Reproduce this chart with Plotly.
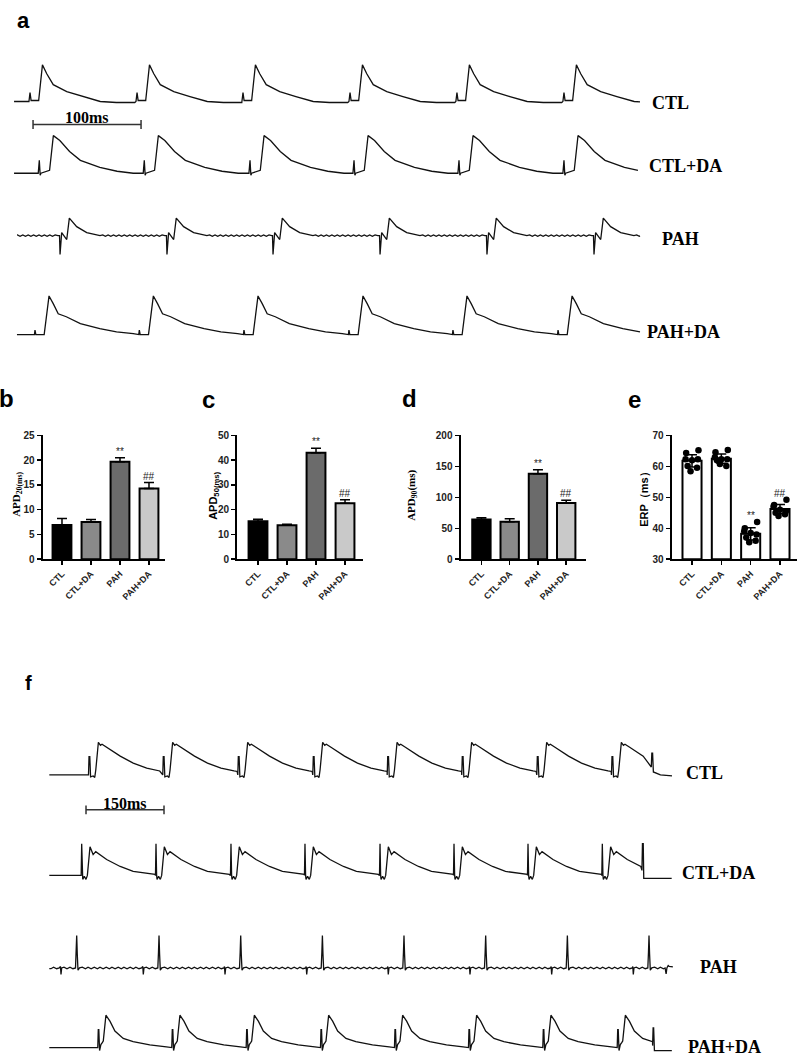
import numpy as np
import plotly.graph_objects as go

W, H = 800, 1062

# ======================= DATA =======================
# ---- Panel a : optical action potentials (time after stimulus, ms ; amplitude, a.u.)
a_ctl_t = [-1, 0, 1, 8, 11.5, 15.5, 21.5, 34, 49, 65, 80, 97]
a_ctl_v = [-2, 7, -1, -1, 35, 26, 15, 8, 3, -2, -3, -3]
a_ctl_beats = [27.8, 126.9, 225.0, 324.1, 423.1, 522.2]

a_ctlda_t = [-1, 0, 0.8, 1.5, 9.5, 13, 19, 28, 38, 56, 72, 87, 94]
a_ctlda_v = [0, 13, -2, 0, 3, 38, 33, 22, 13, 6, 2, 0, 0]
a_ctlda_beats = [36.4, 133.6, 231.5, 327.8, 425.0, 522.2]

a_pah_t = [-0.5, 0, 0.8, 1.5, 6.2, 8.6, 15.4, 24.7, 37, 39.5, 42, 44.5, 47, 49.5, 52,
           54.5, 57, 59.5, 62, 64.5, 67, 69.5, 72, 74.5, 77, 79.5, 82, 84.5, 87,
           89.5, 92, 94.5, 97]
a_pah_v = [0, -19, 0, 3, -4, 17.7, 9, 3, 0, 0.7, -0.7, 0.7, -0.7, 0.7, -0.7,
           0.7, -0.7, 0.7, -0.7, 0.7, -0.7, 0.7, -0.7, 0.7, -0.7, 0.7, -0.7, 0.7, -0.7,
           0.7, -0.7, 0.7, 0]
a_pah_beats = [55.6, 154.6, 252.8, 351.9, 450.9, 550.0]

a_pahda_t = [-0.5, 0, 0.8, 8.5, 13, 17, 21.5, 29, 42, 60, 75.5, 91, 95]
a_pahda_v = [0, 4.5, 0, 0, 39, 31, 21, 18, 11, 6, 2.7, 1, 0]
a_pahda_beats = [32.4, 129.0, 225.9, 323.1, 419.4, 516.7]

a_labels = ["CTL", "CTL+DA", "PAH", "PAH+DA"]
a_scale_ms = 100

# ---- Panel f : monophasic action potentials (time after stimulus, ms ; amplitude, a.u.)
f_ctl_t = [-1, 0, 1.5, 3, 8, 11, 13, 18, 22, 25, 34, 60, 85, 111, 136, 142]
f_ctl_v = [0, 18.5, 18.5, -2, -1, -2.5, 5, 33, 30, 31, 28, 19, 12, 7, 4, 3.5]
f_ctl_beats = [171.2, 314.0, 458.3, 602.5, 745.6, 889.0, 1033.3, 1176.9]
f_ctl_end = [(1252.5, 8), (1253.5, 22), (1255, 22), (1256.5, 3), (1270, 0), (1292.3, -1)]

f_ctlda_t = [-1, 0, 1.2, 2, 5, 8.3, 10.9, 16, 22, 27, 48, 55, 74, 99, 125, 141]
f_ctlda_v = [0, 32, 0, -4, -1, -4, 0, 29, 21, 24, 16, 14, 9, 4, 2, 1]
f_ctlda_beats = [157.1, 300.0, 444.2, 586.5, 730.8, 873.1, 1015.4, 1158.3]
f_ctlda_end = [(1234.5, 5), (1235.5, 32), (1237, 32), (1238, -3), (1291.7, -3)]

f_pah_t = [-1, 0, 1.3, 5.8, 11.5, 17.3, 23, 27.9, 29.2, 30.2, 31.3, 32.7, 35.6, 41,
           47, 52, 58, 64, 70, 75, 81, 87, 93, 98, 104, 110, 116, 121, 127, 133,
           139, 144, 150, 155]
f_pah_v = [1.5, -6.6, 0, 0.8, -0.8, 0.8, -0.8, 0, 16, 32.7, 14, -2.3, 0, 0.8,
           -0.8, 0.8, -0.8, 0.8, -0.8, 0.8, -0.8, 0.8, -0.8, 0.8, -0.8, 0.8, -0.8, 0.8, -0.8, 0.8,
           -0.8, 0.8, -0.8, 0]
f_pah_beats = [117.3, 275.6, 432.7, 589.8, 746.7, 903.8, 1060.9, 1217.9]
f_pah_end = [(1279, 0), (1281, -6), (1282.5, 0), (1285, 2.5), (1287, 1.5), (1294, 1)]

f_pahda_t = [-1, 0, 1, 2.5, 5, 7.7, 9.6, 14.7, 22.4, 32, 48, 67, 99, 131, 141]
f_pahda_v = [0, 18, 18, -3, 3, 5, 6.7, 32.7, 26.7, 16.7, 9.3, 6, 2.7, 0.7, 0]
f_pahda_beats = [189.0, 331.3, 474.4, 617.3, 759.6, 901.9, 1044.8, 1187.9]
f_pahda_end = [(1255, 2), (1256, 20), (1257, 20), (1258.5, -3), (1292, -3)]

f_scale_ms = 150

# ---- Panels b-e : summary statistics
groups = ["CTL", "CTL+DA", "PAH", "PAH+DA"]
apd20_mean = [6.9, 7.5, 19.7, 14.3]
apd20_err = [1.3, 0.5, 0.8, 1.2]
apd50_mean = [15.3, 13.7, 43.0, 22.6]
apd50_err = [0.8, 0.4, 1.8, 1.4]
apd90_mean = [64, 60.5, 138, 91]
apd90_err = [3, 5, 6.5, 4.5]
erp_mean = [61.8, 62.5, 38.2, 46.2]
erp_err = [2.0, 1.5, 2.0, 1.5]
erp_ctl = [65.2, 64.3, 62.3, 62.0, 62.3, 60.1, 59.6, 58.4]
erp_ctlda = [65.3, 64.6, 63.0, 62.3, 62.3, 62.0, 60.1, 60.8]
erp_pah = [42.0, 40.0, 39.0, 38.5, 38.0, 37.0, 36.0, 35.5]
erp_pahda = [49.2, 47.5, 47.0, 46.0, 45.5, 45.0, 44.5, 44.0]
erp_axis_min = 30
sig_marks = ["", "", "**", "##"]

# ======================= STYLE =======================
SERIF = "Liberation Serif"
SANS = "Liberation Sans"
LINE = dict(color="#111111", width=1.3)
bar_fill = ["#000000", "#8a8a8a", "#6b6b6b", "#c9c9c9"]
dot_offsets = [0.22, -0.2, -0.22, 0.0, 0.2, -0.15, 0.17, -0.05]


def px_x(p):
    return p / W


def px_y(p):
    return 1 - p / H


def build(tt, vv, beats, start, end, base, lead, end_pts=None):
    period = beats[1] - beats[0]
    xs, ys = [], []
    if lead == "tail":
        seq = [beats[0] - period] + list(beats)
    else:
        seq = list(beats)
        xs.append(start)
        ys.append(base + vv[0])
    stop = end_pts[0][0] if end_pts else end
    for i, b in enumerate(seq):
        nxt = seq[i + 1] + tt[0] if i + 1 < len(seq) else stop
        for t, v in zip(tt, vv):
            x = b + t
            if x < start:
                continue
            if x >= nxt:
                break
            xs.append(x)
            ys.append(base + v)
    if lead == "tail" and xs[0] > start:
        xs.insert(0, start)
        ys.insert(0, ys[0])
    if end_pts:
        for t, v in end_pts:
            xs.append(t)
            ys.append(base + v)
    else:
        xs.append(end)
        ys.append(base + float(np.interp(end - seq[-1], tt, vv)))
    return xs, ys


fig = go.Figure()

# ---------------- Panel a traces ----------------
a_rows = [
    (a_ctl_t, a_ctl_v, a_ctl_beats, 13.0, 592.6, 254.5, "flat"),
    (a_ctlda_t, a_ctlda_v, a_ctlda_beats, 13.0, 590.7, 180.0, "flat"),
    (a_pah_t, a_pah_v, a_pah_beats, 15.7, 592.6, 117.0, "tail"),
    (a_pahda_t, a_pahda_v, a_pahda_beats, 15.7, 592.6, 17.0, "flat"),
]
for tt, vv, bb, s, e, base, lead in a_rows:
    xs, ys = build(tt, vv, bb, s, e, base, lead)
    fig.add_trace(go.Scatter(x=xs, y=ys, mode="lines", line=LINE,
                             xaxis="x", yaxis="y", hoverinfo="skip"))

# ---------------- Panel f traces ----------------
f_rows = [
    (f_ctl_t, f_ctl_v, f_ctl_beats, 94.8, 1292.3, 284.0, "flat", f_ctl_end),
    (f_ctlda_t, f_ctlda_v, f_ctlda_beats, 94.8, 1291.7, 182.5, "flat", f_ctlda_end),
    (f_pah_t, f_pah_v, f_pah_beats, 94.8, 1294.0, 89.0, "tail", f_pah_end),
    (f_pahda_t, f_pahda_v, f_pahda_beats, 94.8, 1292.0, 8.5, "flat", f_pahda_end),
]
for tt, vv, bb, s, e, base, lead, ep in f_rows:
    xs, ys = build(tt, vv, bb, s, e, base, lead, ep)
    fig.add_trace(go.Scatter(x=xs, y=ys, mode="lines", line=LINE,
                             xaxis="x2", yaxis="y2", hoverinfo="skip"))

# ---------------- Bar panels ----------------
bar_panels = [
    ("x3", "y3", apd20_mean, apd20_err),
    ("x4", "y4", apd50_mean, apd50_err),
    ("x5", "y5", apd90_mean, apd90_err),
]
idx = [0, 1, 2, 3]
for xa, ya, m, e in bar_panels:
    fig.add_trace(go.Bar(
        x=idx, y=m, width=0.65, xaxis=xa, yaxis=ya,
        marker=dict(color=bar_fill, line=dict(color="black", width=2)),
        error_y=dict(type="data", array=e, arrayminus=[0] * 4, symmetric=False,
                     color="black", thickness=1.5, width=5),
        hoverinfo="skip"))

fig.add_trace(go.Bar(
    x=idx, y=[v - erp_axis_min for v in erp_mean], base=erp_axis_min,
    width=0.65, xaxis="x6", yaxis="y6",
    marker=dict(color="white", line=dict(color="black", width=2)),
    error_y=dict(type="data", array=erp_err, color="black", thickness=1.5, width=5),
    hoverinfo="skip"))

for gi, pts in enumerate([erp_ctl, erp_ctlda, erp_pah, erp_pahda]):
    fig.add_trace(go.Scatter(
        x=[gi + o for o in dot_offsets[:len(pts)]], y=pts, mode="markers",
        marker=dict(color="black", size=6.5), xaxis="x6", yaxis="y6",
        hoverinfo="skip"))

# ---------------- Layout ----------------
tick_font = dict(family=SANS, size=10, color="#222222", weight="bold")
bar_ax = dict(showline=True, linecolor="black", linewidth=2, ticks="outside",
              ticklen=4, tickwidth=1.5, tickcolor="black", showgrid=False,
              zeroline=False, tickfont=tick_font, fixedrange=True)


def xbar(dom, rng, anchor):
    d = dict(bar_ax)
    d.update(domain=[px_x(dom[0]), px_x(dom[1])], range=rng, anchor=anchor,
             tickvals=idx, ticktext=groups, tickangle=-45,
             tickfont=dict(family=SANS, size=9, color="#222222", weight="bold"))
    return d


def ybar(rng, dt, anchor):
    d = dict(bar_ax)
    d.update(domain=[px_y(560), px_y(435)], range=rng, anchor=anchor,
             dtick=dt, tick0=rng[0])
    return d


fig.update_layout(
    width=W, height=H, margin=dict(l=0, r=0, t=0, b=0),
    paper_bgcolor="white", plot_bgcolor="white", showlegend=False,
    xaxis=dict(domain=[0, 1], range=[0, W * a_scale_ms / 108], visible=False),
    yaxis=dict(domain=[px_y(350), px_y(40)], range=[0, 310], visible=False),
    xaxis2=dict(domain=[0, 1], range=[0, W * f_scale_ms / 78], visible=False),
    yaxis2=dict(domain=[0, px_y(720)], range=[0, 342], visible=False),
    xaxis3=xbar((42.5, 165), [-0.672, 3.552], "y3"),
    yaxis3=ybar([0, 25], 5, "x3"),
    xaxis4=xbar((237, 363), [-0.724, 3.62], "y4"),
    yaxis4=ybar([0, 50], 10, "x4"),
    xaxis5=xbar((460.5, 586), [-0.74, 3.7], "y5"),
    yaxis5=ybar([0, 200], 50, "x5"),
    xaxis6=xbar((671.7, 797), [-0.693, 3.58], "y6"),
    yaxis6=ybar([erp_axis_min, 70], 10, "x6"),
)

ann = []
shapes = []


def note(text, cx, cy, font, **kw):
    d = dict(text=text, x=px_x(cx), y=px_y(cy), xref="paper", yref="paper",
             showarrow=False, xanchor="center", yanchor="middle", font=font)
    d.update(kw)
    ann.append(d)


# panel letters
for txt, cx, cy, sz in [("a", 23, 16, 22), ("b", 6, 398, 24), ("c", 208, 399, 24),
                        ("d", 409.5, 398, 24), ("e", 634.5, 399, 24), ("f", 28.7, 685, 20)]:
    note(txt, cx, cy, dict(family=SANS, size=sz, color="black", weight="bold"))

# row labels
row_font = dict(family=SERIF, size=18, color="black", weight="bold")
for txt, cx, cy in zip(a_labels, [670.5, 685, 680, 683.5], [99, 163, 236, 330]):
    note(txt, cx, cy, row_font)
for txt, cx, cy in zip(a_labels, [704, 718, 718, 724], [776, 877, 972, 1053]):
    note(txt, cx, cy, row_font)


# scale bars
def scale_bar(xref, yref, x0, length, yv, tick, label, ty):
    shapes.append(dict(type="line", xref=xref, yref=yref, x0=x0, x1=x0 + length,
                       y0=yv, y1=yv, line=dict(color="#333", width=1.5)))
    for xx in (x0, x0 + length):
        shapes.append(dict(type="line", xref=xref, yref=yref, x0=xx, x1=xx,
                           y0=yv - tick, y1=yv + tick, line=dict(color="#333", width=1.5)))
    ann.append(dict(text=label, x=x0 + length / 2, y=ty, xref=xref, yref=yref,
                    showarrow=False, xanchor="center", yanchor="middle",
                    font=dict(family=SERIF, size=16, color="black", weight="bold")))


scale_bar("x", "y", 30.6, a_scale_ms, 350 - 120.7, 4.5, f"{a_scale_ms}ms", 350 - 114)
scale_bar("x2", "y2", 165.4, f_scale_ms, 1062 - 813.3, 4.5, f"{f_scale_ms}ms", 1062 - 806.5)

# y-axis titles
for txt, fam, cx, cy in [("APD<sub>20(ms)</sub>", SERIF, 17, 495),
                         ("APD<sub>50(ms)</sub>", SANS, 214, 496),
                         ("APD<sub>90</sub>(ms)", SERIF, 412, 496),
                         ("ERP（ms）", SANS, 645, 497)]:
    note(txt, cx, cy, dict(family=fam, size=11, color="black", weight="bold"), textangle=-90)

# significance marks
tops = [
    ("x3", "y3", [m + e for m, e in zip(apd20_mean, apd20_err)]),
    ("x4", "y4", [m + e for m, e in zip(apd50_mean, apd50_err)]),
    ("x5", "y5", [m + e for m, e in zip(apd90_mean, apd90_err)]),
    ("x6", "y6", [max(m + e, max(p)) for m, e, p in
                  zip(erp_mean, erp_err, [erp_ctl, erp_ctlda, erp_pah, erp_pahda])]),
]
for xa, ya, tp in tops:
    for i, mk in enumerate(sig_marks):
        if mk:
            ann.append(dict(text=mk, x=i, y=tp[i], xref=xa, yref=ya, showarrow=False,
                            xanchor="center", yanchor="bottom", yshift=-1,
                            font=dict(family=SANS, size=10, color="#222222")))

fig.update_layout(annotations=ann, shapes=shapes)
fig.write_html("out.html", config={"displayModeBar": False, "staticPlot": True},
               post_script="document.body.style.margin='0';document.body.style.overflow='hidden';")
